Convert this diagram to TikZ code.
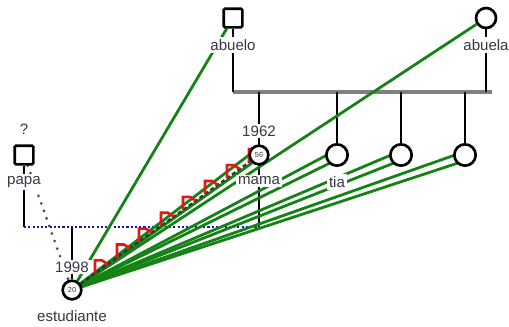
\documentclass[tikz,border=0pt]{standalone}
\usepackage{fontspec}
\setmainfont{Liberation Sans}
\usetikzlibrary{calc,backgrounds}
\definecolor{txt}{RGB}{55,55,70}
\definecolor{cercanocol}{RGB}{20,130,20}
\definecolor{hostilcol}{RGB}{235,20,20}
\definecolor{unioncol}{RGB}{20,20,210}
\tikzset{
  varon/.style={draw, rectangle, rounded corners=1pt, line width=2pt, minimum size=14pt, inner sep=0pt, fill=white},
  mujer/.style={draw, circle, line width=2pt, minimum size=15pt, inner sep=0pt, fill=white, text=txt, font=\fontsize{5.5}{6}\selectfont},
  rotulo/.style={fill=white, inner sep=1.5pt, text=txt, font=\fontsize{11.3}{13}\selectfont},
  linea/.style={line width=2.2pt},
  hermanos/.style={gray, line width=2.6pt},
  cercano/.style={cercanocol, line width=2.1pt},
  hostil/.style={hostilcol, line width=2pt},
}
\begin{document}
\begin{tikzpicture}[x=0.75pt,y=0.75pt,yscale=-1]
\useasboundingbox (0,0) rectangle (509,326);
% personas
\node[varon] (abuelo) at (233,18) {};
\node[mujer] (abuela) at (486,18) {};
\node[varon] (papa) at (24,155) {};
\node[mujer, minimum size=14pt] (mama) at (259,155) {56};
\node[mujer, minimum size=16pt] (tia) at (337,155) {};
\node[mujer, minimum size=16pt] (hija2) at (401,155) {};
\node[mujer, minimum size=16pt] (hija3) at (465,155) {};
\node[mujer, minimum size=14pt] (est) at (72,290) {20};
% nombres y fechas
\node[rotulo] (abuelo-n) at (233,45) {abuelo};
\node[rotulo] (abuela-n) at (486,45) {abuela};
\node[rotulo] (papa-q) at (24,129) {?};
\node[rotulo] (papa-n) at (24,182) {papa};
\node[rotulo] (mama-a) at (259,131) {1962};
\node[rotulo] (mama-n) at (259,181) {mama};
\node[rotulo] (tia-n) at (337,182) {tia};
\node[rotulo] (est-a) at (72,267) {1998};
\node[rotulo] (est-n) at (72,316) {estudiante};

\begin{pgfonlayer}{background}
% familia de origen
\coordinate (fam) at (233,92);
\coordinate (famR) at (492,92);
\draw[hermanos] (fam) -- (famR);
\draw[linea] (abuelo) -- (abuelo |- fam);
\draw[linea] (abuela) -- (abuela |- fam);
\foreach \p in {tia,hija2,hija3}
  \draw[linea] (\p) -- (\p |- fam);
% pareja papa - mama
\coordinate (pareja) at (24,227);
\draw[linea] (mama |- fam) -- (mama |- pareja);
\draw[linea] (papa) -- (pareja);
\draw[linea] (est) -- (est |- pareja);
\draw[unioncol, line width=1.6pt, dash pattern=on 1.6pt off 1.6pt] (pareja) -- (mama |- pareja);
\draw[gray!60!black, line width=2.3pt, line cap=round, dash pattern=on 0pt off 6pt] (papa) -- (est);
% vinculos cercanos
\draw[cercano] (est) -- (abuelo);
\draw[cercano] (est) -- (abuela);
\foreach \p in {mama,tia,hija2,hija3} {
  \draw[cercano] (est) -- ([shift={(-10,0)}]\p.center);
  \draw[cercano] (est) -- ([shift={(-7,8)}]\p.center);
}
% relacion hostil con mama
\draw[gray!40!black, line width=1.6pt, dash pattern=on 3pt off 2pt] (est) -- (mama);
\foreach \k in {0,...,7} {
  \pgfmathsetmacro\t{0.123+0.1176*\k}
  \draw[hostil] ($(est)!\t!(mama)$) -- ++(0,-13) -- ++(7,0) -- ($(est)!{\t+0.068}!(mama)$);
}
\end{pgfonlayer}
\end{tikzpicture}
\end{document}
